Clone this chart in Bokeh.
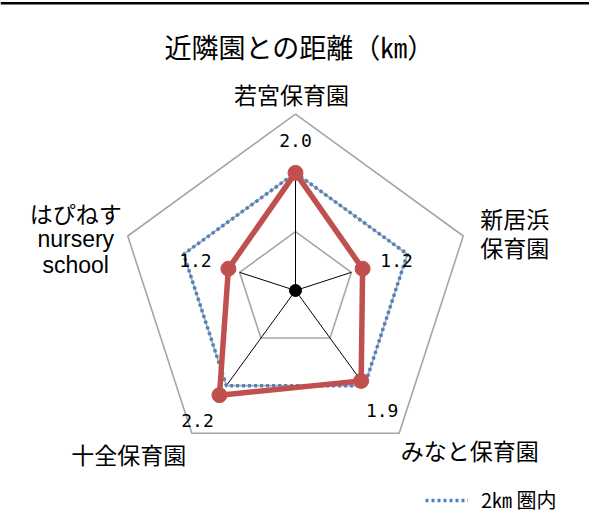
import numpy as np
from bokeh.plotting import figure
from bokeh.models import Label, Span, Legend, LegendItem, ColumnDataSource
from bokeh.core.properties import value
from bokeh.embed import file_html
from bokeh.resources import INLINE

# ---- data ----
title_text = "近隣園との距離（㎞）"
categories = ["若宮保育園", "新居浜\n保育園", "みなと保育園", "十全保育園", "はぴねす\nnursery\nschool"]
distance_km = [2.0, 1.2, 1.9, 2.2, 1.2]
within_2km = [2.0, 2.0, 2.0, 2.0, 2.0]
spoke_len = [2.0, 1.0, 1.9, 2.0, 1.0]
grid_levels = [1, 2, 3]
legend_label = "2㎞ 圏内"

# ---- layout / style ----
W, H = 589, 520
S = 58.8            # pixels per km
CX, CY = 295, 290   # radar centre in figure pixels (from top-left)
CJK = "Noto Sans CJK JP"
LAT = "Liberation Sans"
RED = "#C0504D"
BLUE = "#4F81BD"
GRAY = "#A6A6A6"

n = len(categories)
ang = np.pi / 2 - 2 * np.pi * np.arange(n) / n


def polar(r):
    r = np.asarray(r, dtype=float)
    return r * np.cos(ang), r * np.sin(ang)


def closed(a):
    a = list(a)
    return a + a[:1]


p = figure(width=W, height=H,
           x_range=(-CX / S, (W - CX) / S), y_range=(-(H - CY) / S, CY / S),
           x_axis_type=None, y_axis_type=None,
           output_backend="svg", toolbar_location=None, min_border=0)
p.grid.visible = False
p.outline_line_color = None
p.background_fill_color = "white"

# top rule
p.add_layout(Span(location=CY / S - 2.7 / S, dimension="width",
                  line_color="black", line_width=2.5))

# grid pentagons
for lvl in grid_levels:
    gx, gy = polar([lvl] * n)
    p.line(closed(gx), closed(gy), line_color=GRAY, line_width=1.6)

# spokes
sx, sy = polar(spoke_len)
p.segment(x0=[0] * n, y0=[0] * n, x1=sx, y1=sy, line_color="black", line_width=1)

# 2km series (dotted)
bx, by = polar(within_2km)
blue_r = p.line(closed(bx), closed(by), line_color=BLUE, line_width=3.5,
                line_dash="3 3", line_cap="butt")

# distance series
rx, ry = polar(distance_km)
p.line(closed(rx), closed(ry), line_color=RED, line_width=5.5, line_join="round")
p.scatter(rx, ry, size=15, fill_color=RED, line_color=RED)

# centre dot
p.scatter([0], [0], size=12, fill_color="black", line_color="black")

# data labels
lab_dx = [0, 34, 21, -22, -33]
lab_dy = [-32, -8, 30, 25, -8]
src = ColumnDataSource(dict(x=rx, y=ry, t=[f"{v:.1f}" for v in distance_km],
                            dx=lab_dx, dy=lab_dy))
p.text(x="x", y="y", text="t", x_offset="dx", y_offset="dy", source=src,
       text_font=value("DejaVu Sans Mono"), text_font_size="18px",
       text_align="center", text_baseline="middle", text_color="black")

# category labels (anchored to outer vertex + pixel offsets)
ox, oy = polar([grid_levels[-1]] * n)
cat_style = [  # dx, first dy, line step, align
    (-4, -20, 0, "center"),
    (17, -17.5, 29, "left"),
    (70.5, 16.5, 0, "center"),
    (-63, 20.5, 0, "center"),
    (-52, -23, 26, "center"),
]
for i, cat in enumerate(categories):
    dx, dy0, step, align = cat_style[i]
    for j, line in enumerate(cat.split("\n")):
        is_latin = all(ord(c) < 128 for c in line)
        p.text(x=[ox[i]], y=[oy[i]], text=[line], x_offset=dx, y_offset=dy0 + j * step,
               text_font=value(LAT if is_latin else CJK),
               text_font_size="23px",
               text_align=align, text_baseline="middle", text_color="black")

# title
p.add_layout(Label(x=299, y=H - 46, x_units="screen", y_units="screen",
                   text=title_text, text_font=CJK, text_font_size="27px",
                   text_align="center", text_baseline="middle", text_color="black"))

# legend
leg = Legend(items=[LegendItem(label=legend_label, renderers=[blue_r])],
             location=(425, 6), glyph_width=43, glyph_height=16, label_height=16,
             label_standoff=13, padding=0, margin=0, spacing=0,
             border_line_color=None, background_fill_alpha=0,
             label_text_font=CJK, label_text_font_size="20px",
             label_text_color="black")
p.add_layout(leg)

open("out.html", "w").write(file_html(p, INLINE))
